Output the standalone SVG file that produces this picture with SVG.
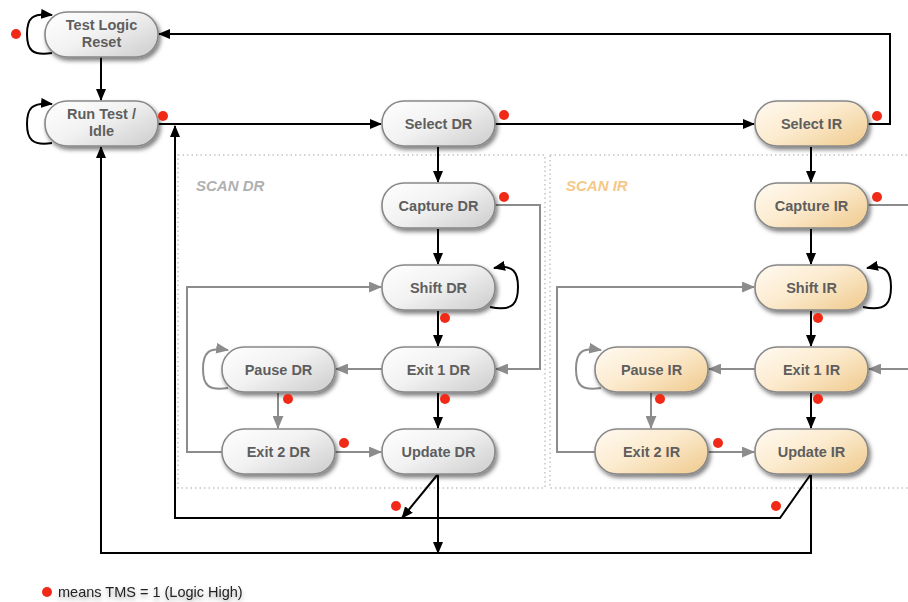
<svg xmlns="http://www.w3.org/2000/svg" width="908" height="602" viewBox="0 0 908 602">
  <defs>
    <linearGradient id="gDR" x1="0" y1="0" x2="1" y2="0.8">
      <stop offset="0" stop-color="#ffffff"/>
      <stop offset="0.5" stop-color="#f2f2f2"/>
      <stop offset="1" stop-color="#d2d2d2"/>
    </linearGradient>
    <linearGradient id="gIR" x1="0" y1="0" x2="1" y2="0.8">
      <stop offset="0" stop-color="#fffaf1"/>
      <stop offset="0.5" stop-color="#fcebcf"/>
      <stop offset="1" stop-color="#f1cf97"/>
    </linearGradient>
    <filter id="shadow" x="-20%" y="-30%" width="150%" height="180%">
      <feDropShadow dx="2" dy="3" stdDeviation="2.2" flood-color="#000" flood-opacity="0.5"/>
    </filter>
    <filter id="txtShadow" x="-10%" y="-50%" width="120%" height="220%">
      <feDropShadow dx="0" dy="3" stdDeviation="2.5" flood-color="#000" flood-opacity="0.35"/>
    </filter>
    <marker id="ab" viewBox="0 0 12 10" refX="11" refY="5" markerWidth="12" markerHeight="10" markerUnits="userSpaceOnUse" orient="auto">
      <path d="M0,0 L12,5 L0,10 z" fill="#000"/>
    </marker>
    <marker id="ag" viewBox="0 0 12 10" refX="11" refY="5" markerWidth="13" markerHeight="11" markerUnits="userSpaceOnUse" orient="auto">
      <path d="M0,0 L12,5 L0,10 z" fill="#8c8c8c"/>
    </marker>
  </defs>
  <style>
    .dr { fill: url(#gDR); stroke: #888; stroke-width: 1.6; filter: url(#shadow); }
    .ir { fill: url(#gIR); stroke: #888; stroke-width: 1.6; filter: url(#shadow); }
    .lbl { font-family: "Liberation Sans", Arial, sans-serif; font-weight: bold; font-size: 14.5px; fill: #5e5e5e; text-anchor: middle; }
    .blk { fill: none; stroke: #000; stroke-width: 2; }
    .gry { fill: none; stroke: #8c8c8c; stroke-width: 2; }
    .dot { fill: #f02a17; }
    .box { fill: none; stroke: #c4c4c4; stroke-width: 1.5; stroke-dasharray: 1.5 3; }
    .scan { font-family: "Liberation Sans", Arial, sans-serif; font-weight: bold; font-style: italic; font-size: 15px; }
  </style>

  <!-- scan regions -->
  <g id="regions">
    <rect class="box" x="178" y="155" width="367" height="333"/>
    <rect class="box" x="550" y="155" width="370" height="333"/>
    <text class="scan" x="196" y="191" fill="#b0b0b0">SCAN DR</text>
    <text class="scan" x="566" y="191" fill="#f4c888">SCAN IR</text>
  </g>

  <!-- connectors -->
  <g id="connectors">
    <!-- self loops -->
    <path class="blk" d="M52,53 C32,56 27,50 27,34 C27,18 32,13 52,15" marker-end="url(#ab)"/>
    <path class="blk" d="M52,143 C32,146 27,139 27,124 C27,108 32,102 52,104" marker-end="url(#ab)"/>
    <path class="blk" d="M490,307 C514,312 518,302 518,287 C518,273 514,264 494,268" marker-end="url(#ab)"/>
    <path class="blk" d="M863,307 C887,312 891,302 891,287 C891,273 887,264 867,268" marker-end="url(#ab)"/>
    <path class="gry" d="M228,388 C208,391 203,385 203,369 C203,353 208,347 228,350" marker-end="url(#ag)"/>
    <path class="gry" d="M601,388 C581,391 576,385 576,369 C576,353 581,347 601,350" marker-end="url(#ag)"/>

    <!-- main path -->
    <path class="blk" d="M101,57 V100" marker-end="url(#ab)"/>
    <path class="blk" d="M158,124 H381" marker-end="url(#ab)"/>
    <path class="blk" d="M495,124 H754" marker-end="url(#ab)"/>
    <path class="blk" d="M868,124 H890 V34 H159" marker-end="url(#ab)"/>

    <!-- DR column -->
    <path class="blk" d="M438,147 V182" marker-end="url(#ab)"/>
    <path class="blk" d="M438,229 V264" marker-end="url(#ab)"/>
    <path class="blk" d="M438,311 V346" marker-end="url(#ab)"/>
    <path class="blk" d="M438,393 V428" marker-end="url(#ab)"/>
    <path class="gry" d="M495,205 H540 V369 H496" marker-end="url(#ag)"/>
    <path class="gry" d="M382,369 H336" marker-end="url(#ag)"/>
    <path class="gry" d="M278,393 V428" marker-end="url(#ag)"/>
    <path class="gry" d="M335,452 H381" marker-end="url(#ag)"/>
    <path class="gry" d="M222,452 H187 V287 H381" marker-end="url(#ag)"/>

    <!-- IR column -->
    <path class="blk" d="M811,147 V182" marker-end="url(#ab)"/>
    <path class="blk" d="M811,229 V264" marker-end="url(#ab)"/>
    <path class="blk" d="M811,311 V346" marker-end="url(#ab)"/>
    <path class="blk" d="M811,393 V428" marker-end="url(#ab)"/>
    <path class="gry" d="M868,205 H910"/>
    <path class="gry" d="M910,369 H869" marker-end="url(#ag)"/>
    <path class="gry" d="M755,369 H709" marker-end="url(#ag)"/>
    <path class="gry" d="M651,393 V428" marker-end="url(#ag)"/>
    <path class="gry" d="M708,452 H754" marker-end="url(#ag)"/>
    <path class="gry" d="M595,452 H557 V287 H754" marker-end="url(#ag)"/>

    <!-- update exits -->
    <path class="blk" d="M438,474 L402,518" marker-end="url(#ab)"/>
    <path class="blk" d="M811,474 L780,518 H175 V126" marker-end="url(#ab)"/>
    <path class="blk" d="M438,474 V553" marker-end="url(#ab)"/>
    <path class="blk" d="M811,474 V553 H101 V147" marker-end="url(#ab)"/>
  </g>

  <!-- nodes -->
  <g id="test-logic-reset"><rect class="dr" x="45" y="12" width="113" height="45" rx="22"/><text class="lbl" x="101.5" y="30">Test Logic</text><text class="lbl" x="101.5" y="47">Reset</text></g>
  <g id="run-test-idle"><rect class="dr" x="45" y="101" width="113" height="45" rx="22"/><text class="lbl" x="101.5" y="119">Run Test /</text><text class="lbl" x="101.5" y="136">Idle</text></g>
  <g id="select-dr"><rect class="dr" x="382" y="101" width="113" height="45" rx="22"/><text class="lbl" x="438.5" y="128.5">Select DR</text></g>
  <g id="capture-dr"><rect class="dr" x="382" y="183" width="113" height="45" rx="22"/><text class="lbl" x="438.5" y="210.5">Capture DR</text></g>
  <g id="shift-dr"><rect class="dr" x="382" y="265" width="113" height="45" rx="22"/><text class="lbl" x="438.5" y="292.5">Shift DR</text></g>
  <g id="exit1-dr"><rect class="dr" x="382" y="347" width="113" height="45" rx="22"/><text class="lbl" x="438.5" y="374.5">Exit 1 DR</text></g>
  <g id="pause-dr"><rect class="dr" x="222" y="347" width="113" height="45" rx="22"/><text class="lbl" x="278.5" y="374.5">Pause DR</text></g>
  <g id="exit2-dr"><rect class="dr" x="222" y="429" width="113" height="45" rx="22"/><text class="lbl" x="278.5" y="456.5">Exit 2 DR</text></g>
  <g id="update-dr"><rect class="dr" x="382" y="429" width="113" height="45" rx="22"/><text class="lbl" x="438.5" y="456.5">Update DR</text></g>

  <g id="select-ir"><rect class="ir" x="755" y="101" width="113" height="45" rx="22"/><text class="lbl" x="811.5" y="128.5">Select IR</text></g>
  <g id="capture-ir"><rect class="ir" x="755" y="183" width="113" height="45" rx="22"/><text class="lbl" x="811.5" y="210.5">Capture IR</text></g>
  <g id="shift-ir"><rect class="ir" x="755" y="265" width="113" height="45" rx="22"/><text class="lbl" x="811.5" y="292.5">Shift IR</text></g>
  <g id="exit1-ir"><rect class="ir" x="755" y="347" width="113" height="45" rx="22"/><text class="lbl" x="811.5" y="374.5">Exit 1 IR</text></g>
  <g id="pause-ir"><rect class="ir" x="595" y="347" width="113" height="45" rx="22"/><text class="lbl" x="651.5" y="374.5">Pause IR</text></g>
  <g id="exit2-ir"><rect class="ir" x="595" y="429" width="113" height="45" rx="22"/><text class="lbl" x="651.5" y="456.5">Exit 2 IR</text></g>
  <g id="update-ir"><rect class="ir" x="755" y="429" width="113" height="45" rx="22"/><text class="lbl" x="811.5" y="456.5">Update IR</text></g>

  <!-- TMS = 1 markers -->
  <g id="tms-dots">
    <circle class="dot" cx="16" cy="34" r="5"/>
    <circle class="dot" cx="163" cy="116" r="5"/>
    <circle class="dot" cx="504" cy="115" r="5"/>
    <circle class="dot" cx="877" cy="116" r="5"/>
    <circle class="dot" cx="504" cy="197" r="5"/>
    <circle class="dot" cx="877" cy="197" r="5"/>
    <circle class="dot" cx="445" cy="318" r="5"/>
    <circle class="dot" cx="818" cy="318" r="5"/>
    <circle class="dot" cx="445" cy="399" r="5"/>
    <circle class="dot" cx="818" cy="399" r="5"/>
    <circle class="dot" cx="288" cy="399" r="5"/>
    <circle class="dot" cx="660" cy="399" r="5"/>
    <circle class="dot" cx="344" cy="443" r="5"/>
    <circle class="dot" cx="718" cy="443" r="5"/>
    <circle class="dot" cx="396" cy="506" r="5"/>
    <circle class="dot" cx="776" cy="506" r="5"/>
  </g>

  <!-- legend -->
  <g id="legend">
    <circle class="dot" cx="47" cy="592" r="5"/>
    <text x="58" y="597" font-family="Liberation Sans, Arial, sans-serif" font-size="14.5" fill="#222" filter="url(#txtShadow)">means TMS = 1 (Logic High)</text>
  </g>
</svg>
